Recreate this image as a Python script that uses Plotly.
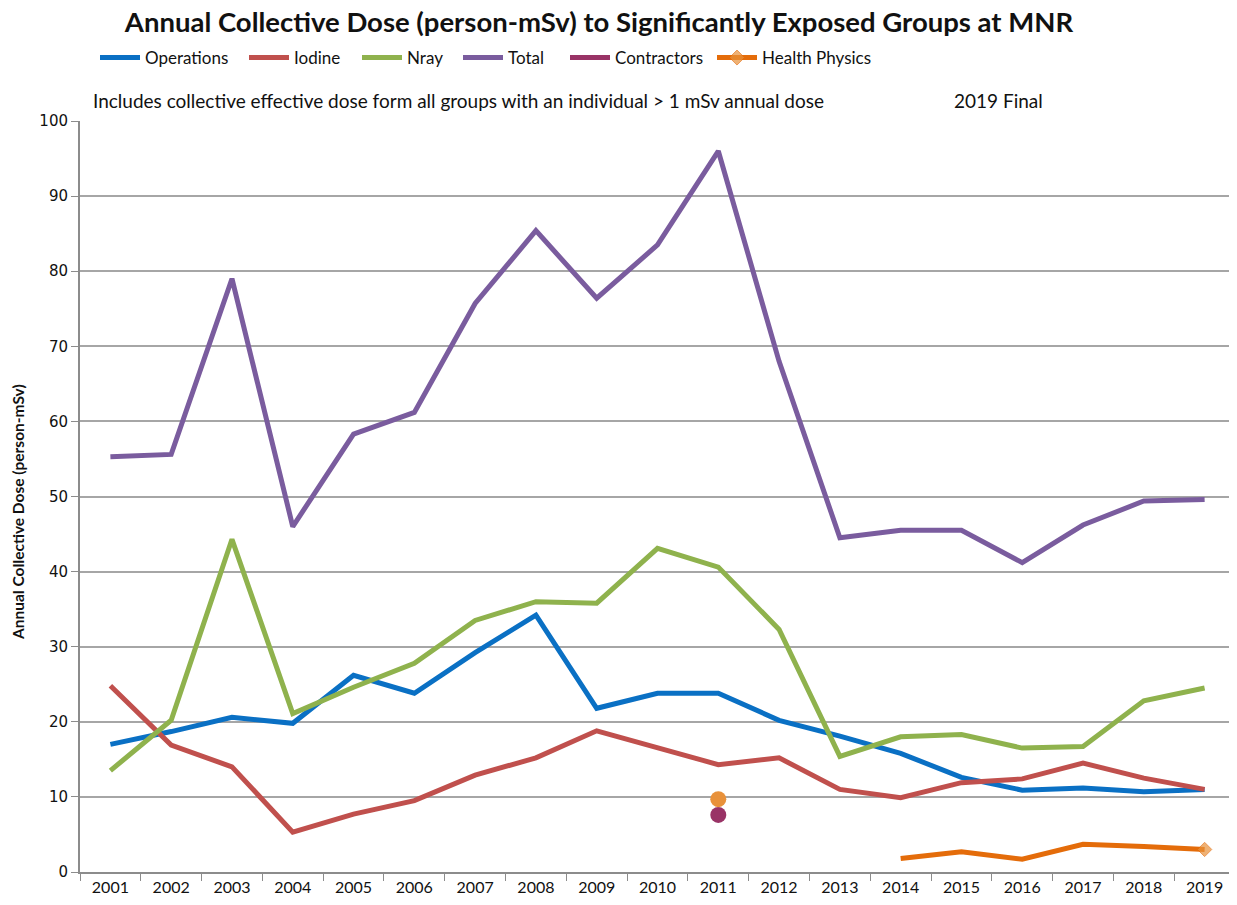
"""
Annual collective dose to significantly exposed groups at MNR, 2001-2019.
"""
import plotly.graph_objects as go

years = [str(y) for y in range(2001, 2020)]

operations = [17.0, 18.7, 20.6, 19.8, 26.2, 23.8, 29.2, 34.2, 21.8, 23.8,
              23.8, 20.2, 18.1, 15.8, 12.6, 10.9, 11.2, 10.7, 11.0]
iodine = [24.8, 16.9, 14.0, 5.3, 7.7, 9.5, 12.9, 15.2, 18.8, 16.6,
          14.3, 15.2, 11.0, 9.9, 11.9, 12.4, 14.5, 12.5, 11.0]
nray = [13.5, 20.2, 44.3, 21.1, 24.6, 27.8, 33.5, 36.0, 35.8, 43.1,
        40.6, 32.3, 15.4, 18.0, 18.3, 16.5, 16.7, 22.8, 24.5]
total = [55.3, 55.6, 79.0, 46.0, 58.3, 61.2, 75.7, 85.4, 76.4, 83.5,
         96.0, 68.0, 44.5, 45.5, 45.5, 41.2, 46.2, 49.4, 49.6]
contractors = [None] * 10 + [7.6] + [None] * 8
health_physics = [None] * 13 + [1.8, 2.7, 1.7, 3.7, 3.4, 3.0]
health_physics_2011 = [None] * 10 + [9.7] + [None] * 8

FONT = "Lato, 'Open Sans', sans-serif"
LW = 5
# page body has an 8px margin, so the figure is drawn 8px smaller and offset
OFF = 8
W, H = 1237 - OFF, 905 - OFF
L, R, T, B = 80 - OFF, 2, 121 - OFF, 33


def px_x(p):
    return (p - OFF - L) / (W - L - R)


def px_y(p):
    return (H - B - (p - OFF)) / (H - T - B)


fig = go.Figure()
for name, vals, color, lw in [
    ("Operations", operations, "#0a70c4", 94),
    ("Iodine", iodine, "#c0504d", 58),
    ("Nray", nray, "#8fb24d", 46),
    ("Total", total, "#7a5c9e", 52),
]:
    fig.add_trace(go.Scatter(x=years, y=vals, mode="lines", name=name, legendwidth=lw,
                             line=dict(color=color, width=LW)))

fig.add_trace(go.Scatter(x=years, y=contractors, mode="lines", name="Contractors",
                         legendgroup="c", legendwidth=92,
                         line=dict(color="#993366", width=LW)))
fig.add_trace(go.Scatter(x=years, y=contractors, mode="markers", name="Contractors",
                         legendgroup="c", showlegend=False,
                         marker=dict(color="#993366", size=16)))
fig.add_trace(go.Scatter(x=years, y=health_physics_2011, mode="markers", name="Health Physics",
                         legendgroup="hp", showlegend=False,
                         marker=dict(color="#e8913a", size=16)))
# diamond only on the last point (empty slots carry size so the legend shows a diamond)
hp_sizes = [16 if v is None else 0 for v in health_physics]
hp_sizes[-1] = 11
fig.add_trace(go.Scatter(x=years, y=health_physics, mode="lines+markers", name="Health Physics",
                         legendgroup="hp", legendwidth=110,
                         line=dict(color="#e46c0a", width=LW),
                         marker=dict(color="#e8913a", symbol="diamond", size=hp_sizes)))

fig.add_annotation(text="Includes collective effective dose form all groups with an individual > 1 mSv annual dose",
                   xref="paper", yref="paper", x=px_x(91), y=px_y(101),
                   xanchor="left", yanchor="middle",
                   showarrow=False, font=dict(family=FONT, size=19, color="#111"))
fig.add_annotation(text="2019 Final", xref="paper", yref="paper", x=px_x(998), y=px_y(101),
                   xanchor="center", yanchor="middle", showarrow=False,
                   font=dict(family=FONT, size=19, color="#111"))
fig.add_annotation(text="<b>Annual Collective Dose (person-mSv)</b>", textangle=-90,
                   xref="paper", yref="paper", x=px_x(18), y=px_y(512),
                   xanchor="center", yanchor="middle", showarrow=False,
                   font=dict(family=FONT, size=15.5, color="#111"))

fig.update_layout(
    width=W, height=H,
    paper_bgcolor="white", plot_bgcolor="white",
    margin=dict(l=L, r=R, t=T, b=B),
    font=dict(family=FONT, color="#111"),
    title=dict(text="<b>Annual Collective Dose (person-mSv) to Significantly Exposed Groups at MNR</b>",
               x=(599 - OFF) / W, xanchor="center", xref="container",
               y=1 - 5 / H, yanchor="top", yref="container", pad=dict(t=0),
               font=dict(family=FONT, size=27.5, color="#111")),
    legend=dict(orientation="h", xref="container", x=(95 - OFF) / W, xanchor="left",
                yref="container", y=1 - (58 - OFF) / H, yanchor="middle",
                font=dict(family=FONT, size=17), traceorder="normal", itemwidth=40),
    xaxis=dict(type="category", range=[-0.5, 18.5], automargin=False,
               showgrid=False, showline=True, linecolor="#8c8c8c", linewidth=2,
               ticks="outside", tickson="boundaries", ticklen=7, tickcolor="#8c8c8c",
               tickfont=dict(family=FONT, size=16, color="#111")),
    yaxis=dict(range=[0, 100], dtick=10, automargin=False,
               showgrid=True, gridcolor="#a6a6a6", gridwidth=1.5,
               showline=True, linecolor="#8c8c8c", linewidth=2, ticks="outside", ticklen=7,
               tickcolor="#8c8c8c", zeroline=False,
               tickfont=dict(family="DejaVu Sans", size=15, color="#111")),
)

fig.write_html("out.html")
